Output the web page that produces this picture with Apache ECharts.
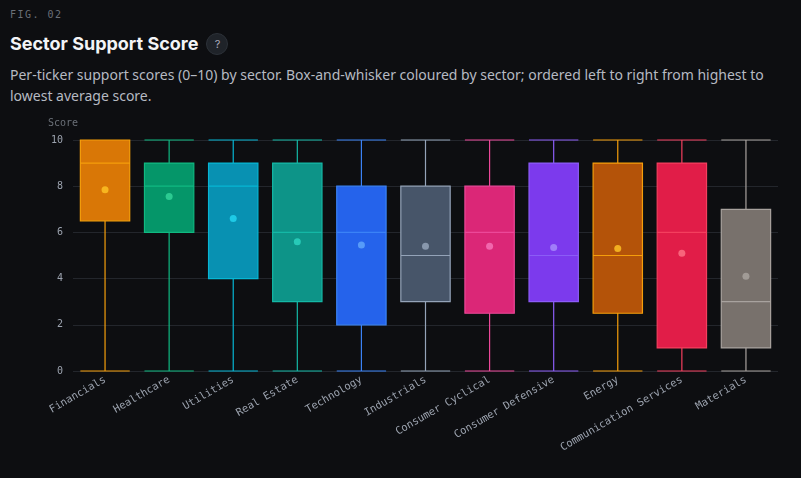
<!DOCTYPE html>
<html><head><meta charset="utf-8">
<script src="https://cdn.jsdelivr.net/npm/echarts@6/dist/echarts.min.js"></script>
<style>
  body { margin:0; background:#0d0e11; font-family:Inter, "Noto Sans", sans-serif; width:801px; height:478px; overflow:hidden; }
  .fig { position:absolute; left:10px; top:9px; font:10px "DejaVu Sans Mono", monospace; color:#6b7078; letter-spacing:1.5px; }
  .title { position:absolute; left:10px; top:33px; font-size:18px; font-weight:700; color:#f3f4f6; }
  .q { display:inline-block; width:20px; height:20px; border-radius:50%; background:#1f2329; border:1px solid #2c3138; color:#aab; font-size:11px; text-align:center; line-height:20px; margin-left:8px; vertical-align:2px; font-weight:400; }
  .sub { position:absolute; left:10px; top:64px; width:785px; font-family:"Noto Sans", sans-serif; font-size:14px; line-height:21px; color:#b6bac2; }
  #chart { position:absolute; left:0; top:108px; width:801px; height:370px; }
</style></head>
<body>
<div class="fig">FIG. 02</div>
<div class="title">Sector Support Score<span class="q">?</span></div>
<div class="sub">Per-ticker support scores (0–10) by sector. Box-and-whisker coloured by sector; ordered left to right from highest to lowest average score.</div>
<div id="chart"></div>
<script>
const sectors = ['Financials','Healthcare','Utilities','Real Estate','Technology','Industrials','Consumer Cyclical','Consumer Defensive','Energy','Communication Services','Materials'];
// [min, Q1, median, Q3, max]
const boxes = [
  [0, 6.5, 9, 10, 10],
  [0, 6, 8, 9, 10],
  [0, 4, 8, 9, 10],
  [0, 3, 6, 9, 10],
  [0, 2, 6, 8, 10],
  [0, 3, 5, 8, 10],
  [0, 2.5, 6, 8, 10],
  [0, 3, 5, 9, 10],
  [0, 2.5, 5, 9, 10],
  [0, 1, 6, 9, 10],
  [0, 1, 3, 7, 10]
];
const means = [7.85, 7.55, 6.6, 5.6, 5.45, 5.4, 5.4, 5.35, 5.3, 5.1, 4.1];
const fills = ['#d97706','#059669','#0891b2','#0d9488','#2563eb','#475569','#db2777','#7c3aed','#b45309','#e11d48','#78716c'];
const edges = ['#f59e0b','#10b981','#06b6d4','#14b8a6','#3b82f6','#94a3b8','#ec4899','#8b5cf6','#f59e0b','#f43f5e','#a8a29e'];
const dots  = ['#fbbf24','#34d399','#22d3ee','#2dd4bf','#60a5fa','#94a3b8','#f472b6','#a78bfa','#fbbf24','#fb7185','#a8a29e'];

const chart = echarts.init(document.getElementById('chart'));
const mono = '"DejaVu Sans Mono", monospace';
chart.setOption({
  backgroundColor: 'transparent',
  animation: false,
  grid: { left: 73, right: 23, top: 32, bottom: 107 },
  xAxis: {
    type: 'category', data: sectors,
    axisLine: { show: false }, axisTick: { show: false },
    axisLabel: { rotate: 30, color: '#9ca3af', fontFamily: mono, fontSize: 10.5, interval: 0, margin: 8 }
  },
  yAxis: {
    type: 'value', min: 0, max: 10, interval: 2, name: 'Score',
    nameTextStyle: { color: '#6b7078', fontFamily: mono, fontSize: 10, padding: [0, 0, 0, -20] },
    nameGap: 12,
    axisLabel: { color: '#9ca3af', fontFamily: mono, fontSize: 10, margin: 10 },
    splitLine: { lineStyle: { color: '#23262c' } }
  },
  series: [
    {
      type: 'boxplot', boxWidth: ['77%', '77%'],
      data: boxes.map((b, i) => ({
        value: b,
        itemStyle: { color: fills[i], borderColor: edges[i], borderWidth: 1.2, opacity: 1 }
      }))
    },
    {
      type: 'scatter', symbolSize: 7,
      data: means.map((m, i) => ({ value: [i, m], itemStyle: { color: dots[i], opacity: 0.85 } }))
    }
  ]
});
</script>
</body></html>
